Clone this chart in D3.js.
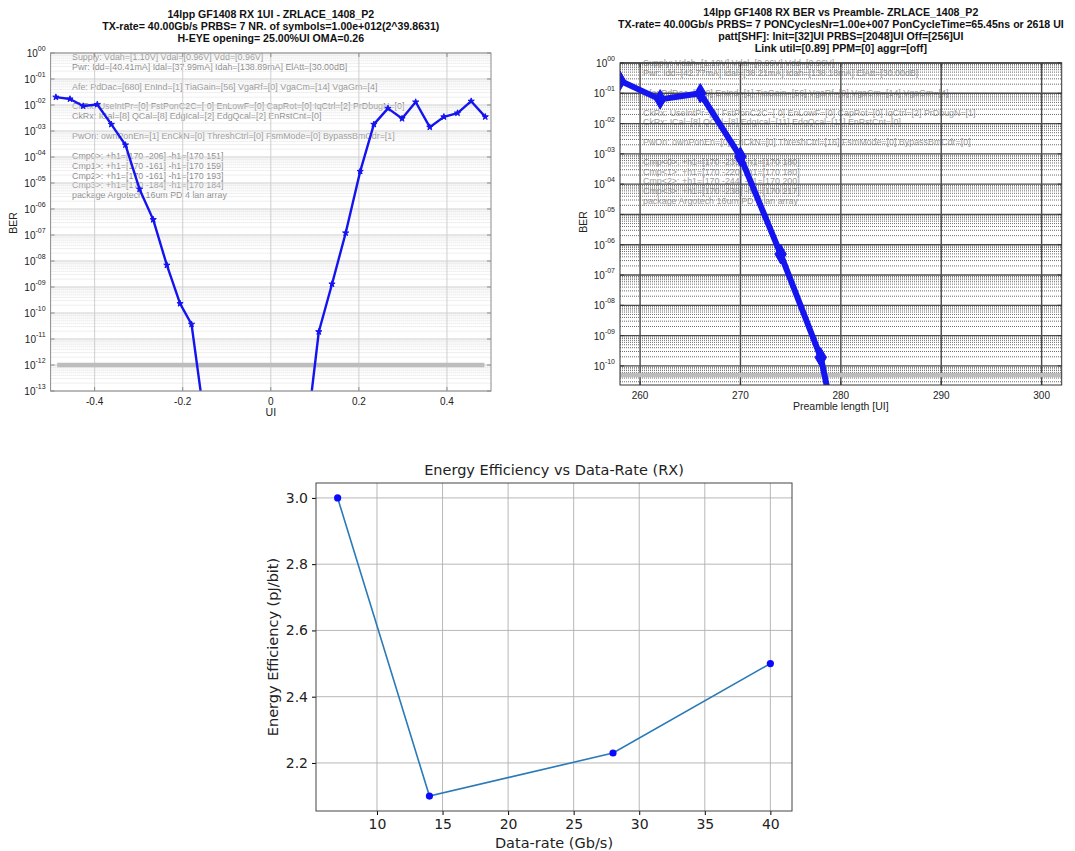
<!DOCTYPE html>
<html>
<head>
<meta charset="utf-8">
<script src="https://cdn.jsdelivr.net/npm/d3@7/dist/d3.min.js"></script>
<style>
  body { margin: 0; background: #fff; }
  text { font-family: "Liberation Sans", Arial, sans-serif; }
</style>
</head>
<body>
<div id="chart"></div>
<script>
// ---- data: 1UI bathtub (top left) ----
var eyeLeftUI   = [-0.488, -0.456, -0.426, -0.394, -0.362, -0.330, -0.298, -0.267, -0.236, -0.206, -0.180, -0.149];
var eyeLeftBER  = [2.0e-2, 1.7e-2, 9.1e-3, 1.05e-2, 1.8e-3, 2.9e-4, 5.8e-6, 3.9e-7, 6.9e-9, 2.3e-10, 3.7e-11, 5e-15];
var eyeRightUI  = [0.077, 0.109, 0.139, 0.170, 0.203, 0.234, 0.266, 0.298, 0.329, 0.361, 0.393, 0.424, 0.455, 0.487];
var eyeRightBER = [5e-16, 1.9e-11, 1.3e-9, 1.2e-7, 2.8e-5, 1.8e-3, 7.4e-3, 3.0e-3, 1.3e-2, 1.4e-3, 3.5e-3, 4.9e-3, 1.4e-2, 3.5e-3];
var eyeTargetBER = 1e-12;
var eyeXTicks = [-0.4, -0.2, 0, 0.2, 0.4];
var eyeYExps = [0, -1, -2, -3, -4, -5, -6, -7, -8, -9, -10, -11, -12, -13];
var eyeTitle = ["14lpp GF1408 RX 1UI - ZRLACE_1408_P2",
                "TX-rate= 40.00Gb/s PRBS= 7 NR. of symbols=1.00e+012(2^39.8631)",
                "H-EYE opening= 25.00%UI OMA=0.26"];
var eyeNotes = ["Supply: Vdah=[1.10V] Vdal=[0.96V] Vdd=[0.96V]",
                "Pwr: Idd=[40.41mA] Idal=[37.99mA] Idah=[138.89mA] ElAtt=[30.00dB]",
                "",
                "Afe: PdDac=[680] EnInd=[1] TiaGain=[56] VgaRf=[0] VgaCm=[14] VgaGm=[4]",
                "",
                "CkRx: UseIntPr=[0] FstPonC2C=[ 0] EnLowF=[0] CapRot=[0] IqCtrl=[2] PrDbugN=[0]",
                "CkRx: ICal=[8] QCal=[8] EdgIcal=[2] EdgQcal=[2] EnRstCnt=[0]",
                "",
                "PwOn: ownPonEn=[1] EnCkN=[0] ThreshCtrl=[0] FsmMode=[0] BypassBmCdr=[1]",
                "",
                "Cmp0>: +h1=[170 -206] -h1=[170 151]",
                "Cmp1>: +h1=[170 -161] -h1=[170 159]",
                "Cmp2>: +h1=[170 -161] -h1=[170 193]",
                "Cmp3>: +h1=[170 -184] -h1=[170 184]",
                "package Argotech 16um PD 4 lan array"];

// ---- data: BER vs preamble (top right) ----
var preambleUI  = [258, 262, 266, 270, 274, 278, 282];
var preambleBER = [0.26, 0.063, 0.10, 8e-4, 4.9e-7, 1.9e-10, 1e-16];
var preambleTargetBER = 5e-11;
var preXTicks = [260, 270, 280, 290, 300];
var preYExps = [0, -1, -2, -3, -4, -5, -6, -7, -8, -9, -10];
var preTitle = ["14lpp GF1408 RX BER vs Preamble- ZRLACE_1408_P2",
                "TX-rate= 40.00Gb/s PRBS=  7 PONCyclesNr=1.00e+007 PonCycleTime=65.45ns or 2618 UI",
                "patt[SHF]: Init=[32]UI PRBS=[2048]UI Off=[256]UI",
                "Link util=[0.89] PPM=[0] aggr=[off]"];
var preNotes = ["Supply: Vdah=[1.10V] Vdal=[0.96V] Vdd=[0.96V]",
                "Pwr: Idd=[42.77mA] Idal=[38.21mA] Idah=[138.18mA] ElAtt=[30.00dB]",
                "",
                "Afe: PdDac=[680] EnInd=[1] TiaGain=[56] VgaRf=[0] VgaCm=[14] VgaGm=[4]",
                "",
                "CkRx: UseIntPr=[0] FstPonC2C=[ 0] EnLowF=[0] CapRot=[0] IqCtrl=[2] PrDbugN=[1]",
                "CkRx: ICal=[8] QCal=[8] EdgIcal=[11] EdgQcal=[11] EnRstCnt=[0]",
                "",
                "PwOn: ownPonEn=[0] EnCkN=[0] ThreshCtrl=[16] FsmMode=[0] BypassBmCdr=[0]",
                "",
                "Cmp<0>: +h1=[170 -235] -h1=[170 180]",
                "Cmp<1>: +h1=[170 -220] -h1=[170 180]",
                "Cmp<2>: +h1=[170 -244] -h1=[170 200]",
                "Cmp<3>: +h1=[170 -238] -h1=[170 217]",
                "package Argotech 16um PD 4 lan array"];

// ---- data: energy efficiency (bottom) ----
var rateGbps = [7, 14, 28, 40];
var energyPJ = [3.0, 2.1, 2.23, 2.5];
var rateTicks = [10, 15, 20, 25, 30, 35, 40];
var energyTicks = [2.2, 2.4, 2.6, 2.8, 3.0];

var svg = d3.select("#chart").append("svg")
    .attr("width", 1075)
    .attr("height", 851)
    .style("background", "#fff");

function expLabel(e) {
  var s = Math.abs(e) < 10 ? "0" + Math.abs(e) : "" + Math.abs(e);
  return (e < 0 ? "-" : "") + s;
}

// log-scale panel in a MATLAB look
function logPanel(opt) {
  var g = svg.append("g");
  var x = d3.scaleLinear().domain(opt.xDomain).range([opt.left, opt.right]);
  var y = d3.scaleLog().domain(opt.yDomain).range([opt.bottom, opt.top]);
  var clipId = "clip" + opt.id;
  svg.append("clipPath").attr("id", clipId).append("rect")
    .attr("x", opt.left).attr("y", opt.top)
    .attr("width", opt.right - opt.left).attr("height", opt.bottom - opt.top);

  // annotation text (under the grid)
  g.selectAll("text.note").data(opt.notes).enter().append("text")
    .attr("x", opt.noteX)
    .attr("y", function(d, i) { return opt.noteY + i * opt.noteStep; })
    .attr("dominant-baseline", "middle")
    .style("font-size", "8.9px")
    .style("fill", opt.noteColor)
    .text(function(d) { return d; });

  // minor horizontal grid
  var minor = [];
  opt.yExps.forEach(function(e) {
    for (var m = 2; m <= 9; m++) {
      var v = m * Math.pow(10, e - 1);
      if (v >= opt.yDomain[0] && v <= opt.yDomain[1]) minor.push(v);
    }
  });
  g.append("g").selectAll("line").data(minor).enter().append("line")
    .attr("x1", opt.left).attr("x2", opt.right)
    .attr("y1", function(d) { return y(d); }).attr("y2", function(d) { return y(d); })
    .attr("stroke", opt.minorColor).attr("stroke-width", 1)
    .attr("stroke-dasharray", "1,1");
  // major grid
  g.append("g").selectAll("line").data(opt.yExps).enter().append("line")
    .attr("x1", opt.left).attr("x2", opt.right)
    .attr("y1", function(d) { return y(Math.pow(10, d)); })
    .attr("y2", function(d) { return y(Math.pow(10, d)); })
    .attr("stroke", opt.majorColor).attr("stroke-width", opt.majorWidth);
  g.append("g").selectAll("line").data(opt.xTicks).enter().append("line")
    .attr("x1", function(d) { return x(d); }).attr("x2", function(d) { return x(d); })
    .attr("y1", opt.top).attr("y2", opt.bottom)
    .attr("stroke", opt.majorColor).attr("stroke-width", opt.majorWidth);

  // threshold line
  g.append("line")
    .attr("x1", x(opt.target[0])).attr("x2", x(opt.target[1]))
    .attr("y1", y(opt.targetBER)).attr("y2", y(opt.targetBER))
    .attr("stroke", "#bdbdbd").attr("stroke-width", 4.5);

  // series
  var line = d3.line().x(function(d) { return x(d[0]); }).y(function(d) { return y(d[1]); });
  var plot = g.append("g").attr("clip-path", "url(#" + clipId + ")");
  opt.series.forEach(function(s) {
    plot.append("path").datum(s)
      .attr("d", line).attr("fill", "none")
      .attr("stroke", "#1414f0").attr("stroke-width", opt.lineWidth)
      .attr("stroke-linejoin", "round");
    plot.selectAll(null).data(s).enter().append("path")
      .attr("transform", function(d) { return "translate(" + x(d[0]) + "," + y(d[1]) + ")"; })
      .attr("d", d3.symbol().type(opt.marker).size(opt.markerSize))
      .attr("fill", "#1414f0").attr("stroke", "#1414f0").attr("stroke-width", 1);
  });

  // box + ticks
  g.append("rect")
    .attr("x", opt.left).attr("y", opt.top)
    .attr("width", opt.right - opt.left).attr("height", opt.bottom - opt.top)
    .attr("fill", "none").attr("stroke", opt.boxColor).attr("stroke-width", 1);
  opt.yExps.forEach(function(e) {
    var yy = y(Math.pow(10, e));
    g.append("line").attr("x1", opt.left).attr("x2", opt.left + 4).attr("y1", yy).attr("y2", yy).attr("stroke", opt.boxColor);
    g.append("line").attr("x1", opt.right - 4).attr("x2", opt.right).attr("y1", yy).attr("y2", yy).attr("stroke", opt.boxColor);
    var t = g.append("text")
      .attr("x", opt.left - 5).attr("y", yy + 4)
      .attr("text-anchor", "end")
      .style("font-size", "10px").style("fill", "#222");
    t.append("tspan").text("10");
    t.append("tspan").attr("dy", -6).style("font-size", "7px").text(expLabel(e));
  });
  opt.xTicks.forEach(function(v) {
    var xx = x(v);
    g.append("line").attr("x1", xx).attr("x2", xx).attr("y1", opt.bottom).attr("y2", opt.bottom - 4).attr("stroke", opt.boxColor);
    g.append("line").attr("x1", xx).attr("x2", xx).attr("y1", opt.top).attr("y2", opt.top + 4).attr("stroke", opt.boxColor);
    g.append("text")
      .attr("x", xx).attr("y", opt.bottom + 14)
      .attr("text-anchor", "middle")
      .style("font-size", "10px").style("fill", "#222")
      .text(v);
  });

  // titles and labels
  g.selectAll("text.title").data(opt.title).enter().append("text")
    .attr("x", (opt.left + opt.right) / 2)
    .attr("y", function(d, i) { return opt.titleY + i * 11.9; })
    .attr("text-anchor", "middle").attr("dominant-baseline", "middle")
    .style("font-size", "10.6px").style("font-weight", "bold").style("fill", "#111")
    .text(function(d) { return d; });
  g.append("text")
    .attr("x", (opt.left + opt.right) / 2).attr("y", opt.bottom + 25)
    .attr("text-anchor", "middle")
    .style("font-size", "10.5px").style("fill", "#222")
    .text(opt.xLabel);
  g.append("text")
    .attr("transform", "translate(" + opt.yLabelX + "," + opt.yLabelY + ")rotate(-90)")
    .attr("text-anchor", "middle")
    .style("font-size", "10.5px").style("fill", "#222")
    .text("BER");
}

logPanel({
  id: "eye", left: 50.6, right: 491, top: 53, bottom: 391,
  xDomain: [-0.5, 0.5], yDomain: [1e-13, 1],
  xTicks: eyeXTicks, yExps: eyeYExps,
  notes: eyeNotes, noteX: 72, noteY: 57.7, noteStep: 9.88, noteColor: "#8a8a8a",
  minorColor: "#dedede", majorColor: "#cfcfcf", majorWidth: 1, boxColor: "#8c8c8c",
  target: [-0.485, 0.485], targetBER: eyeTargetBER,
  series: [d3.zip(eyeLeftUI, eyeLeftBER), d3.zip(eyeRightUI, eyeRightBER)],
  lineWidth: 2.4, marker: d3.symbolStar, markerSize: 12,
  title: eyeTitle, titleY: 15.5, xLabel: "UI", yLabelX: 17, yLabelY: 223
});

logPanel({
  id: "pre", left: 620, right: 1061.7, top: 63, bottom: 385,
  xDomain: [258, 302], yDomain: [Math.pow(10, -10.63), 1],
  xTicks: preXTicks, yExps: preYExps,
  notes: preNotes, noteX: 643, noteY: 64, noteStep: 9.84, noteColor: "#9a9a9a",
  minorColor: "#6a6a6a", majorColor: "#4a4a4a", majorWidth: 1.4, boxColor: "#333",
  target: [258, 302], targetBER: preambleTargetBER,
  series: [d3.zip(preambleUI, preambleBER)],
  lineWidth: 6, marker: d3.symbolDiamond, markerSize: 110,
  title: preTitle, titleY: 13.6, xLabel: "Preamble length [UI]", yLabelX: 587, yLabelY: 222
});

// ---- bottom: matplotlib style line chart ----
var bm = {left: 316, right: 792, top: 483, bottom: 811};
var bx = d3.scaleLinear().domain([5.35, 41.65]).range([bm.left, bm.right]);
var by = d3.scaleLinear().domain([2.055, 3.045]).range([bm.bottom, bm.top]);
var bg = svg.append("g").style("font-family", "'DejaVu Sans', sans-serif");

bg.append("g").selectAll("line").data(rateTicks).enter().append("line")
  .attr("x1", function(d) { return bx(d); }).attr("x2", function(d) { return bx(d); })
  .attr("y1", bm.top).attr("y2", bm.bottom)
  .attr("stroke", "#b0b0b0").attr("stroke-width", 0.9);
bg.append("g").selectAll("line").data(energyTicks).enter().append("line")
  .attr("y1", function(d) { return by(d); }).attr("y2", function(d) { return by(d); })
  .attr("x1", bm.left).attr("x2", bm.right)
  .attr("stroke", "#b0b0b0").attr("stroke-width", 0.9);

bg.append("g")
  .attr("transform", "translate(0," + bm.bottom + ")")
  .call(d3.axisBottom(bx).tickValues(rateTicks).tickSize(4).tickPadding(4))
  .call(function(a) { a.select(".domain").remove(); })
  .selectAll("text").style("font-size", "14px").style("font-family", "'DejaVu Sans', sans-serif").style("fill", "#222");
bg.append("g")
  .attr("transform", "translate(" + bm.left + ",0)")
  .call(d3.axisLeft(by).tickValues(energyTicks).tickFormat(d3.format(".1f")).tickSize(4).tickPadding(4))
  .call(function(a) { a.select(".domain").remove(); })
  .selectAll("text").style("font-size", "14px").style("font-family", "'DejaVu Sans', sans-serif").style("fill", "#222");

bg.append("rect")
  .attr("x", bm.left).attr("y", bm.top)
  .attr("width", bm.right - bm.left).attr("height", bm.bottom - bm.top)
  .attr("fill", "none").attr("stroke", "#444").attr("stroke-width", 1);

bg.append("path").datum(d3.zip(rateGbps, energyPJ))
  .attr("d", d3.line().x(function(d) { return bx(d[0]); }).y(function(d) { return by(d[1]); }))
  .attr("fill", "none").attr("stroke", "#2a7ab8").attr("stroke-width", 1.6);
bg.selectAll("circle").data(d3.zip(rateGbps, energyPJ)).enter().append("circle")
  .attr("cx", function(d) { return bx(d[0]); })
  .attr("cy", function(d) { return by(d[1]); })
  .attr("r", 3.6).attr("fill", "#0a0aff");

bg.append("text")
  .attr("x", (bm.left + bm.right) / 2).attr("y", bm.top - 8)
  .attr("text-anchor", "middle")
  .style("font-size", "14.5px").style("font-family", "'DejaVu Sans', sans-serif").style("fill", "#222")
  .text("Energy Efficiency vs Data-Rate (RX)");
bg.append("text")
  .attr("x", (bm.left + bm.right) / 2).attr("y", 848)
  .attr("text-anchor", "middle")
  .style("font-size", "14.5px").style("font-family", "'DejaVu Sans', sans-serif").style("fill", "#222")
  .text("Data-rate (Gb/s)");
bg.append("text")
  .attr("transform", "translate(278," + (bm.top + bm.bottom) / 2 + ")rotate(-90)")
  .attr("text-anchor", "middle")
  .style("font-size", "14.5px").style("font-family", "'DejaVu Sans', sans-serif").style("fill", "#222")
  .text("Energy Efficiency (pJ/bit)");
</script>
</body>
</html>
